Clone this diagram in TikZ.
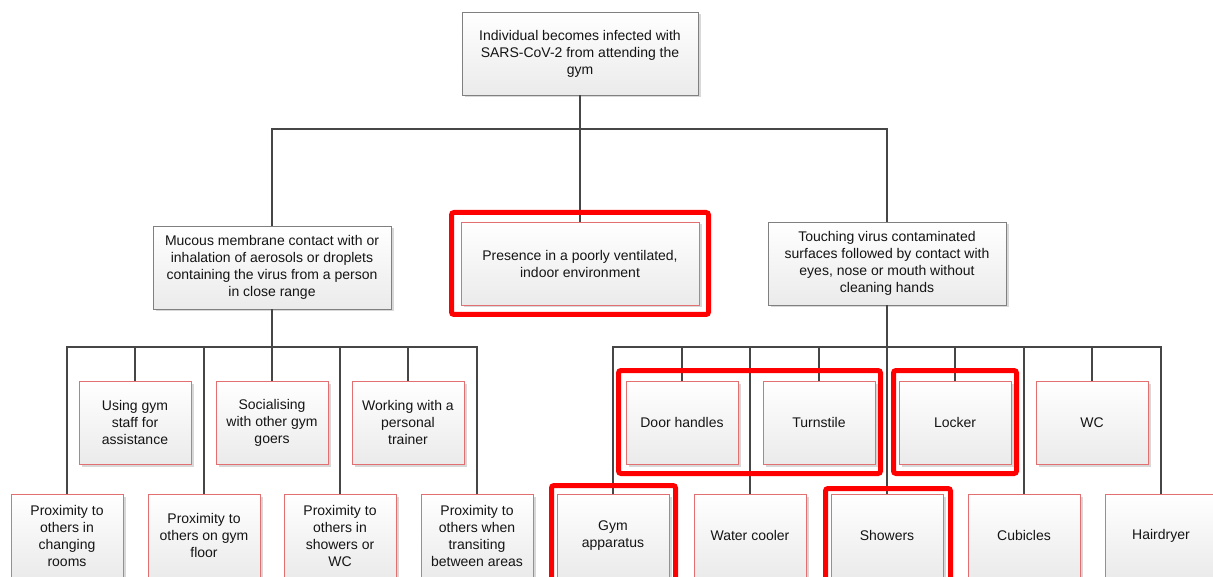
\documentclass[tikz,border=0pt]{standalone}
\usepackage{fontspec}
\setmainfont{Liberation Sans}
\usetikzlibrary{shadows}
\definecolor{txt}{RGB}{20,20,20}
\definecolor{greyedge}{RGB}{128,128,128}
\definecolor{leafedge}{RGB}{226,112,112}
\definecolor{wire}{RGB}{70,70,70}
\definecolor{mark}{RGB}{255,0,0}
\tikzset{
  basebox/.style={rectangle, line width=0.8pt, top color=white, bottom color=black!8,
    text=txt, align=center, inner sep=0pt, minimum height=83pt,
    font={\fontsize{14pt}{17pt}\selectfont},
    drop shadow={shadow xshift=2.5pt, shadow yshift=-2.5pt, fill=black!30, opacity=0.5}},
  branchbox/.style={basebox, draw=greyedge, minimum width=238pt},
  leafbox/.style={basebox, draw=leafedge, minimum width=112pt},
  link/.style={draw=wire, line width=1.2pt},
  hilite/.style={draw=mark, line width=5pt, rounded corners=2.5pt}
}
\begin{document}
\begin{tikzpicture}[x=1pt, y=-1pt]
\useasboundingbox (0,0) rectangle (1213,577);

% root and first level
\node[branchbox, minimum width=236pt] (top) at (580,53.5)
  {Individual becomes infected with\\SARS-CoV-2 from attending the\\gym};
\node[branchbox] (mL) at (272,267.5)
  {Mucous membrane contact with or\\inhalation of aerosols or droplets\\containing the virus from a person\\in close range};
\node[basebox, draw=leafedge, minimum width=238pt] (mC) at (580,263.5)
  {Presence in a poorly ventilated,\\indoor environment};
\node[branchbox] (mR) at (887,263.5)
  {Touching virus contaminated\\surfaces followed by contact with\\eyes, nose or mouth without\\cleaning hands};

% close-range contact causes
\node[leafbox] (l1) at (67,535.5)  {Proximity to\\others in\\changing\\rooms};
\node[leafbox] (l2) at (135,422.5) {Using gym\\staff for\\assistance};
\node[leafbox] (l3) at (204,535.5) {Proximity to\\others on gym\\floor};
\node[leafbox] (l4) at (272,422.5) {Socialising\\with other gym\\goers};
\node[leafbox] (l5) at (340,535.5) {Proximity to\\others in\\showers or\\WC};
\node[leafbox] (l6) at (408,422.5) {Working with a\\personal\\trainer};
\node[leafbox] (l7) at (477,535.5) {Proximity to\\others when\\transiting\\between areas};

% contaminated surfaces
\node[leafbox] (r1) at (613,535.5)  {Gym\\apparatus};
\node[leafbox] (r2) at (682,422.5)  {Door handles};
\node[leafbox] (r3) at (750,535.5)  {Water cooler};
\node[leafbox] (r4) at (819,422.5)  {Turnstile};
\node[leafbox] (r5) at (887,535.5)  {Showers};
\node[leafbox] (r6) at (955,422.5)  {Locker};
\node[leafbox] (r7) at (1024,535.5) {Cubicles};
\node[leafbox] (r8) at (1092,422.5) {WC};
\node[leafbox] (r9) at (1161,535.5) {Hairdryer};

% bus points
\coordinate (busT) at (580,129);
\coordinate (busL) at (272,347);
\coordinate (busR) at (887,347);

% connectors
\foreach \c in {mL,mC,mR}
  \draw[link] (top.south) -- (busT) -| (\c.north);
\foreach \c in {l1,l2,l3,l4,l5,l6,l7}
  \draw[link] (mL.south) -- (busL) -| (\c.north);
\foreach \c in {r1,r2,r3,r4,r5,r6,r7,r8,r9}
  \draw[link] (mR.south) -- (busR) -| (\c.north);

% red emphasis frames
\draw[hilite] (451.5,212.5) rectangle (708.5,314.5);
\draw[hilite] (618.5,370.5) rectangle (880.5,473.5);
\draw[hilite] (893.5,370.5) rectangle (1016.5,473.5);
\draw[hilite] (551.5,485.5) rectangle (675.5,600);
\draw[hilite] (825.5,488.5) rectangle (950.5,600);
\end{tikzpicture}
\end{document}
